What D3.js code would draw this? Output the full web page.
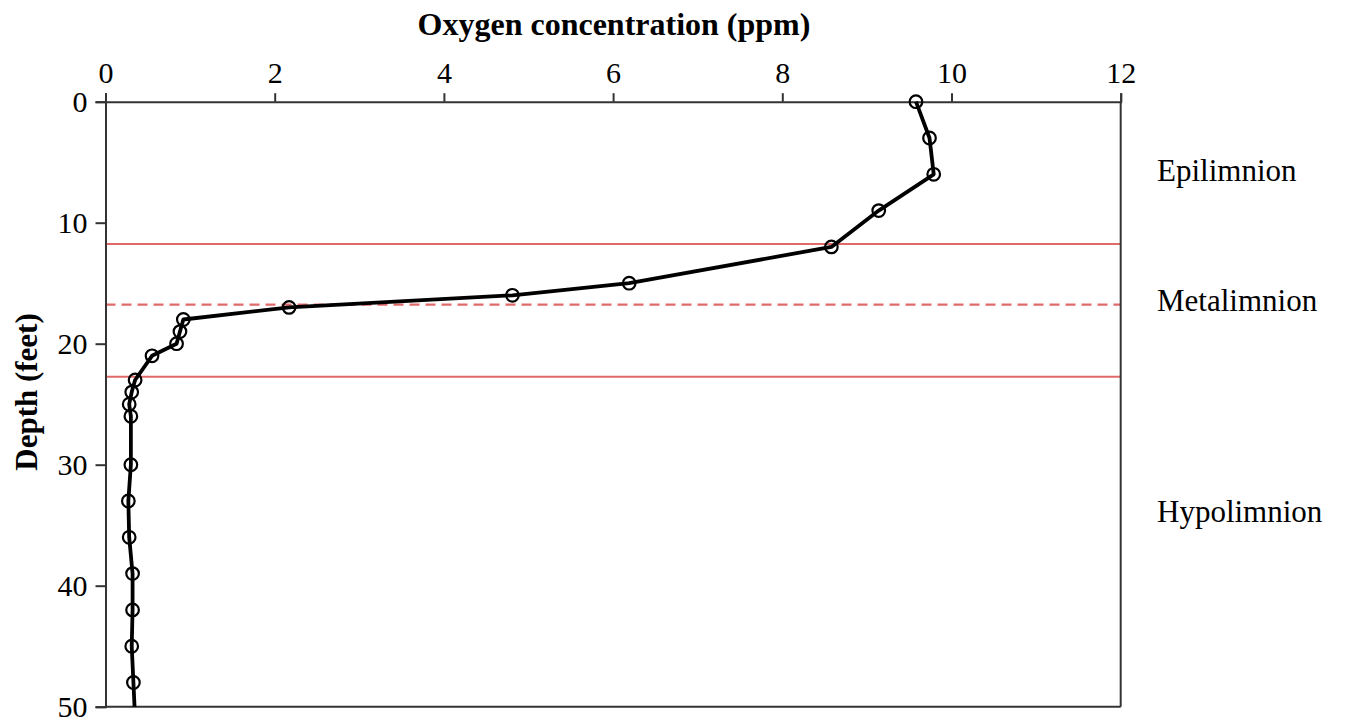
<!DOCTYPE html>
<html>
<head>
<meta charset="utf-8">
<script src="https://cdn.jsdelivr.net/npm/d3@7"></script>
<style>
  html, body { margin: 0; padding: 0; background: #fff; }
  svg { display: block; }
  text { font-family: "Liberation Serif", "Times New Roman", serif; fill: #000; }
</style>
</head>
<body>
<svg id="chart" width="1348" height="723"></svg>
<script>
// Data
const depthFeet = [0, 3, 6, 9, 12, 15, 16, 17, 18, 19, 20, 21, 23, 24, 25, 26, 30, 33, 36, 39, 42, 45, 48, 51];
const oxygenPpm = [9.58, 9.74, 9.79, 9.14, 8.58, 6.19, 4.81, 2.17, 0.92, 0.88, 0.84, 0.55, 0.35, 0.31, 0.28, 0.30, 0.30, 0.27, 0.28, 0.32, 0.32, 0.31, 0.33, 0.35];
const markerCount = 23; // the last point lies below the axis (line only)
const xTicks = [0, 2, 4, 6, 8, 10, 12];
const yTicks = [0, 10, 20, 30, 40, 50];
const layerBounds = [11.76, 22.73];   // solid red lines
const thermocline = [16.77];          // dashed red line
const layerNames = ["Epilimnion", "Metalimnion", "Hypolimnion"];
const layerLabelDepth = [5.7, 16.4, 33.9];
const xTitle = "Oxygen concentration (ppm)";
const yTitle = "Depth (feet)";

const svg = d3.select("#chart");
const m = { left: 105.5, top: 101.7, right: 1120.7, bottom: 706.7 };
const x = d3.scaleLinear().domain([0, 12]).range([m.left, m.right]);
const y = d3.scaleLinear().domain([0, 50]).range([m.top, m.bottom]);

svg.append("defs").append("clipPath").attr("id", "plotclip")
  .append("rect").attr("x", m.left).attr("y", m.top - 8)
  .attr("width", m.right - m.left).attr("height", m.bottom - m.top + 8);

// Red layer lines
const red = "#e06a6a";
svg.append("g").selectAll("line").data(layerBounds).join("line")
  .attr("x1", m.left).attr("x2", m.right)
  .attr("y1", d => y(d)).attr("y2", d => y(d))
  .attr("stroke", red).attr("stroke-width", 2.2);
svg.append("g").selectAll("line").data(thermocline).join("line")
  .attr("x1", m.left).attr("x2", m.right)
  .attr("y1", d => y(d)).attr("y2", d => y(d))
  .attr("stroke", red).attr("stroke-width", 2.2).attr("stroke-dasharray", "10,6");

// Axes
const axisColor = "#333";
const xAxis = svg.append("g").attr("transform", `translate(0,${m.top})`)
  .call(d3.axisTop(x).tickValues(xTicks).tickSize(8.5).tickPadding(10).tickFormat(d3.format("d")));
const yAxis = svg.append("g").attr("transform", `translate(${m.left},0)`)
  .call(d3.axisLeft(y).tickValues(yTicks).tickSize(10).tickPadding(8).tickFormat(d3.format("d")));
[xAxis, yAxis].forEach(g => {
  g.select(".domain").attr("stroke", axisColor).attr("stroke-width", 2);
  g.selectAll(".tick line").attr("stroke", axisColor).attr("stroke-width", 2);
  g.selectAll(".tick text").attr("font-size", 30)
    .style("font-family", '"Liberation Serif", "Times New Roman", serif').attr("fill", "#000");
});
yAxis.selectAll(".tick text").attr("dy", "0.34em");
// frame (right and bottom)
svg.append("line").attr("x1", m.right).attr("x2", m.right).attr("y1", m.top).attr("y2", m.bottom)
  .attr("stroke", axisColor).attr("stroke-width", 2);
svg.append("line").attr("x1", m.left).attr("x2", m.right).attr("y1", m.bottom).attr("y2", m.bottom)
  .attr("stroke", axisColor).attr("stroke-width", 2);

// Data line
const pts = depthFeet.map((d, i) => ({ depth: d, ox: oxygenPpm[i] }));
const plot = svg.append("g").attr("clip-path", "url(#plotclip)");
plot.append("path").datum(pts)
  .attr("fill", "none").attr("stroke", "#000").attr("stroke-width", 3.8)
  .attr("stroke-linejoin", "round")
  .attr("d", d3.line().x(d => x(d.ox)).y(d => y(d.depth)));
svg.append("g").selectAll("circle").data(pts.slice(0, markerCount)).join("circle")
  .attr("cx", d => x(d.ox)).attr("cy", d => y(d.depth)).attr("r", 6.3)
  .attr("fill", "none").attr("stroke", "#000").attr("stroke-width", 2.2);

// Titles
svg.append("text").attr("x", 614).attr("y", 35).attr("text-anchor", "middle")
  .attr("font-size", 32).attr("font-weight", "bold").text(xTitle);
svg.append("text").attr("transform", `translate(37,392) rotate(-90)`).attr("text-anchor", "middle")
  .attr("font-size", 31).attr("font-weight", "bold").text(yTitle);

// Layer labels
svg.append("g").selectAll("text").data(layerNames).join("text")
  .attr("x", 1157).attr("y", (d, i) => y(layerLabelDepth[i])).attr("dy", "0.34em")
  .attr("font-size", 31).text(d => d);
</script>
</body>
</html>
